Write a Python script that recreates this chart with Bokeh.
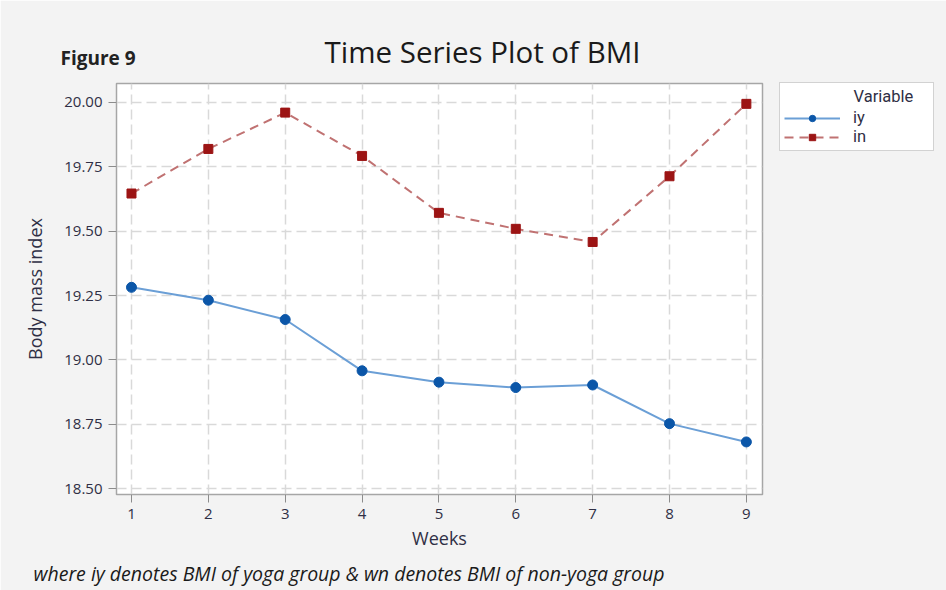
from bokeh.plotting import figure
from bokeh.models import Legend, LegendItem, Label, Range1d, FixedTicker, Title, PrintfTickFormatter
from bokeh.embed import file_html
from bokeh.resources import INLINE

weeks = [1, 2, 3, 4, 5, 6, 7, 8, 9]
iy = [19.282, 19.232, 19.157, 18.958, 18.914, 18.893, 18.903, 18.753, 18.682]
in_vals = [19.646, 19.819, 19.960, 19.792, 19.571, 19.509, 19.458, 19.713, 19.994]
y_ticks = [18.50, 18.75, 19.00, 19.25, 19.50, 19.75, 20.00]

FONT = "Open Sans"
LFONT = "Roboto"
TXT = "#2f2f45"

p = figure(frame_width=646, frame_height=411,
           min_border_left=116, min_border_right=176,
           min_border_top=83, min_border_bottom=88,
           x_range=Range1d(0.805, 9.21), y_range=Range1d(18.478, 20.073),
           output_backend="svg", toolbar_location=None,
           background_fill_color="white", border_fill_color="#f3f3f3")

p.outline_line_color = "#a6a6a6"
p.outline_line_width = 1.5

for ax in (p.xaxis[0], p.yaxis[0]):
    ax.axis_line_color = None
    ax.major_tick_line_color = "#8c8c8c"
    ax.major_tick_out = 8
    ax.major_tick_in = 0
    ax.minor_tick_line_color = None
    ax.major_label_text_font = FONT
    ax.major_label_text_font_size = "15px"
    ax.major_label_text_color = TXT
    ax.major_label_standoff = 6
    ax.axis_label_text_font = FONT
    ax.axis_label_text_font_size = "18px"
    ax.axis_label_text_font_style = "normal"
    ax.axis_label_text_color = TXT

p.xaxis.ticker = FixedTicker(ticks=weeks)
p.yaxis.ticker = FixedTicker(ticks=y_ticks)
p.yaxis.formatter = PrintfTickFormatter(format="%.2f")
p.xaxis.axis_label = "Weeks"
p.yaxis.axis_label = "Body mass index"
p.xaxis.axis_label_standoff = 4
p.yaxis.axis_label_standoff = 14

p.grid.grid_line_color = "#d9d9d9"
p.grid.grid_line_dash = "10 5"
p.grid.grid_line_width = 1.5

r1l = p.line(weeks, iy, line_color="#6b9fd6", line_width=2)
r1m = p.scatter(weeks, iy, marker="circle", size=10, fill_color="#0b56a8", line_color="#0b56a8")
r2l = p.line(weeks, in_vals, line_color="#c07272", line_width=2, line_dash="9 6")
r2m = p.scatter(weeks, in_vals, marker="square", size=9, fill_color="#9c1414", line_color="#9c1414")

legend = Legend(items=[LegendItem(label="iy", renderers=[r1l, r1m]),
                       LegendItem(label="in", renderers=[r2l, r2m])],
                location=(17, 343), orientation="vertical",
                background_fill_color="white", background_fill_alpha=1.0,
                border_line_color="#a6a6a6", border_line_width=1.5,
                label_text_font=LFONT, label_text_font_size="16.5px",
                label_text_color=TXT, glyph_width=56, glyph_height=16,
                label_height=16, spacing=0, padding=4, margin=0,
                label_standoff=13, label_width=76)
legend.title = "\u00a0" * 17 + "Variable"
legend.title_text_font = LFONT
legend.title_text_font_size = "16.5px"
legend.title_text_font_style = "normal"
legend.title_text_color = TXT
legend.title_standoff = 2
p.add_layout(legend, "right")

p.add_layout(Label(x=-56, y=26, x_units="screen", y_units="screen",
                   text="Figure 9", text_font=FONT, text_font_size="19px",
                   text_font_style="bold", text_color="#222222",
                   text_baseline="alphabetic"), "above")
p.add_layout(Label(x=366, y=6, x_units="screen", y_units="screen",
                   text="Time Series Plot of BMI", text_font=FONT, text_font_size="29.5px",
                   text_color="#1a1a1a", text_align="center",
                   text_baseline="alphabetic"), "above")

foot = Title(text="where iy denotes BMI of yoga group & wn denotes BMI of non-yoga group",
             align="left", offset=-83, text_font=FONT, text_font_size="19.5px",
             text_font_style="italic", text_color="#1a1a1a", standoff=11)
p.add_layout(foot, "below")

open("out.html", "w").write(file_html(p, INLINE))
